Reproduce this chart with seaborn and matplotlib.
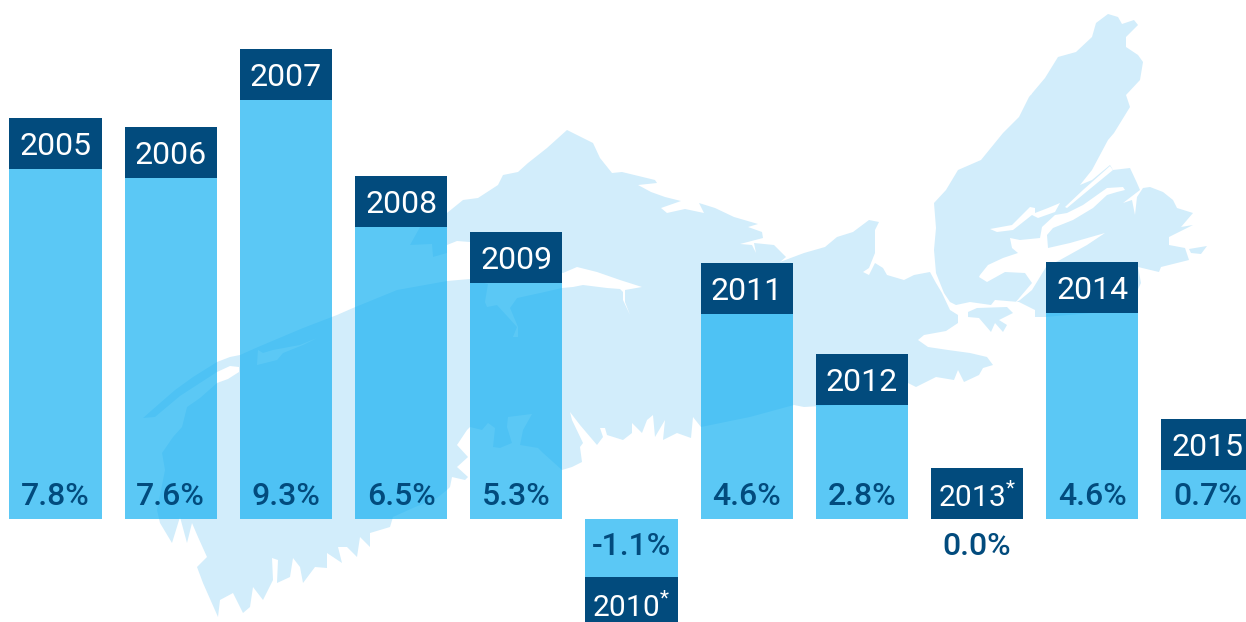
# GDP style bar chart over a pale map of Nova Scotia
import numpy as np
import pandas as pd
import seaborn as sns
import matplotlib.pyplot as plt

# data
years = ['2005', '2006', '2007', '2008', '2009', '2010*', '2011', '2012', '2013*', '2014', '2015']
value_labels = ['7.8%', '7.6%', '9.3%', '6.5%', '5.3%', '-1.1%', '4.6%', '2.8%', '0.0%', '4.6%', '0.7%']
# bar heights as drawn (not quite what the labels say)
bar_heights = [7.78, 7.58, 9.31, 6.49, 5.24, -1.29, 4.56, 2.53, 0.0, 4.58, 1.09]

# map silhouette, traced in picture pixels
map_mainland = [(143, 418), (152, 410), (175, 390), (193, 377), (217, 362), (230, 357), (240, 355), (258, 347),
                (303, 328), (337, 315), (353, 308), (397, 290), (447, 281), (470, 279), (488, 284), (485, 302),
                (487, 307), (497, 305), (508, 317), (517, 327), (513, 337), (518, 337), (518, 327), (510, 308),
                (517, 298), (540, 293), (562, 288), (573, 287), (583, 285), (607, 288), (620, 289), (623, 292),
                (623, 300), (630, 315), (625, 302), (625, 290), (642, 287), (620, 280), (597, 272), (577, 267),
                (563, 273), (470, 242), (457, 241), (447, 245), (447, 253), (433, 257), (432, 244), (410, 245),
                (420, 227), (447, 213), (463, 200), (478, 198), (498, 185), (503, 175), (518, 172), (528, 163),
                (547, 148), (567, 130), (593, 143), (600, 158), (612, 173), (622, 172), (655, 180), (657, 183),
                (638, 185), (651, 192), (665, 197), (681, 201), (661, 208), (667, 213), (685, 209), (704, 213),
                (699, 203), (715, 208), (734, 217), (758, 224), (748, 227), (762, 232), (763, 238), (740, 244),
                (752, 245), (756, 253), (754, 243), (774, 245), (786, 257), (780, 262), (804, 253), (825, 247),
                (837, 237), (853, 232), (869, 220), (879, 222), (875, 230), (875, 253), (869, 268), (863, 272),
                (869, 275), (875, 263), (883, 268), (887, 275), (904, 280), (914, 275), (930, 272), (936, 283),
                (942, 293), (950, 310), (958, 315), (958, 323), (946, 331), (924, 335), (918, 340), (928, 347),
                (948, 350), (970, 353), (987, 357), (993, 365), (983, 368), (979, 375), (964, 382), (958, 370),
                (954, 380), (936, 377), (916, 387), (908, 383), (892, 392), (837, 405), (804, 407), (794, 405),
                (750, 417), (701, 427), (693, 417), (691, 438), (677, 433), (663, 440), (665, 420), (655, 437),
                (653, 415), (647, 420), (642, 433), (632, 423), (632, 433), (623, 440), (607, 435), (605, 428),
                (600, 428), (603, 437), (597, 445), (580, 425), (570, 412), (572, 420), (583, 443), (580, 447),
                (582, 462), (572, 467), (562, 470), (543, 453), (538, 448), (520, 445), (523, 430), (532, 414),
                (508, 417), (507, 427), (512, 443), (500, 448), (493, 447), (495, 428), (488, 423), (482, 430),
                (470, 427), (467, 430), (457, 445), (468, 457), (457, 467), (468, 477), (465, 480), (452, 477),
                (450, 487), (447, 490), (437, 498), (413, 508), (393, 517), (390, 527), (370, 533),
                (370, 547), (360, 537), (357, 557), (347, 547), (338, 547), (342, 563), (327, 553), (327, 568),
                (315, 567), (303, 583), (300, 567), (293, 558), (290, 577), (277, 583), (278, 560), (272, 558),
                (273, 580), (263, 600), (253, 587), (250, 607), (243, 613), (233, 593), (220, 600), (218, 617),
                (203, 583), (197, 567), (207, 557), (198, 537), (192, 523), (187, 543), (180, 517), (172, 543),
                (160, 523), (157, 510), (165, 470), (162, 453), (173, 437), (182, 427), (187, 407), (200, 398),
                (217, 383), (228, 379), (239, 372), (239, 367), (230, 366), (217, 372), (180, 396), (155, 417)]
map_cape_breton = [(1108, 14), (1118, 17), (1122, 24), (1134, 20), (1138, 25), (1126, 37), (1126, 47), (1138, 55),
                   (1143, 62), (1140, 80), (1126, 95), (1130, 107), (1114, 133), (1108, 140), (1092, 170), (1080, 185),
                   (1092, 180), (1110, 165), (1113, 170), (1130, 168), (1137, 183), (1140, 190), (1123, 203), (1132, 200),
                   (1135, 215), (1137, 197), (1143, 188), (1150, 187), (1163, 192), (1173, 200), (1177, 208), (1193, 213),
                   (1181, 227), (1193, 225), (1169, 237), (1169, 245), (1185, 248), (1189, 260), (1161, 267), (1159, 272),
                   (1138, 267), (1141, 283), (1128, 310), (1045, 317), (1035, 317), (1035, 310), (1019, 302), (995, 300),
                   (991, 305), (970, 302), (956, 305), (950, 302), (944, 293), (936, 273), (934, 250), (936, 228),
                   (934, 203), (946, 190), (958, 170), (981, 160), (1003, 133), (1019, 117), (1029, 97), (1045, 78),
                   (1058, 57), (1076, 52), (1092, 37), (1096, 23)]
map_isle_madame = [(968, 312), (977, 308), (1007, 307), (1013, 313), (999, 320), (1007, 325), (1003, 332),
                   (995, 323), (991, 332), (979, 318), (968, 317)]
map_scatarie = [(1189, 249), (1207, 246), (1201, 254), (1191, 253)]
map_water = [
    # Bras d'Or lake and its arms
    [(980, 275), (988, 265), (1003, 258), (1018, 253), (1012, 248), (1010, 238), (1020, 240), (1040, 238),
     (1042, 227), (1055, 215), (1067, 213), (1083, 205), (1107, 188), (1123, 187), (1125, 190), (1117, 192),
     (1107, 195), (1093, 208), (1073, 220), (1053, 228), (1047, 235), (1048, 248), (1070, 243), (1105, 233),
     (1087, 245), (1060, 260), (1046, 267), (1032, 290), (1020, 300), (1015, 303), (1032, 283), (1025, 273),
     (1005, 272), (987, 282), (979, 277)],
    [(1110, 166), (1083, 190), (1065, 207), (1067, 208), (1085, 193), (1113, 170)],
    [(990, 229), (1012, 225), (1030, 207), (1035, 208), (1035, 213), (1048, 208), (1060, 203), (1055, 212),
     (1038, 218), (1032, 215), (1013, 230), (997, 232)],
    [(1026, 93), (1035, 85), (1031, 95)],
    # Annapolis basin
    [(258, 350), (257, 365), (277, 360), (283, 353), (303, 345), (317, 338), (300, 345), (273, 350), (263, 353)],
]

year_height = 51 / 45  # dark year tags are the same height everywhere
light_blue = '#16B1F2'
dark_blue = '#024B7D'
map_blue = '#D2EDFB'

plt.rcParams['font.family'] = ['Roboto', 'DejaVu Sans']
plt.rcParams['mathtext.default'] = 'regular'

fig = plt.figure(figsize=(12.46, 6.22), dpi=100)

# Background map
ax_map = fig.add_axes([0, 0, 1, 1])
ax_map.set_xlim(0, 1246)
ax_map.set_ylim(622, 0)
ax_map.axis('off')
for shape in [map_mainland, map_cape_breton, map_isle_madame, map_scatarie]:
    ax_map.fill(*zip(*shape), color=map_blue, linewidth=0)
for shape in map_water:
    ax_map.fill(*zip(*shape), color='white', linewidth=0)

# Bars on top of it
ax = fig.add_axes([0, 0, 1, 1])
ax.patch.set_alpha(0)

df = pd.DataFrame({'year': years, 'height': bar_heights})
df['tag'] = year_height
df['tag_bottom'] = [h if h >= 0 else h - year_height for h in bar_heights]

sns.barplot(data=df, x='year', y='height', color=light_blue, saturation=1, alpha=0.7,
            width=0.8, linewidth=0, errorbar=None, ax=ax)
sns.barplot(data=df, x='year', y='tag', bottom=df['tag_bottom'].values, color=dark_blue, saturation=1,
            width=0.8, linewidth=0, errorbar=None, ax=ax)

# Labels
px = 1 / 45
for i, (year, label, h) in enumerate(zip(years, value_labels, bar_heights)):
    # values sit 14 px above the zero line, or 36 px below it
    value_y = 14 * px if h > 0 else -36 * px
    ax.text(i, value_y, label, ha='center', va='baseline', fontsize=23, fontweight='medium', color=dark_blue)

    if year.endswith('*'):
        tag_y = max(h, 0) + 12 * px if h >= 0 else h - year_height + 11 * px
        ax.text(i, tag_y, year[:-1] + '$^{*}$', ha='center', va='baseline', fontsize=21.5, color='white')
    else:
        ax.text(i, h + 14 * px, year, ha='center', va='baseline', fontsize=23, color='white')

ax.set_xlim(-55.5 / 115.2, (1246 - 55.5) / 115.2)
ax.set_ylim(-103 / 45, 519 / 45)
ax.axis('off')

plt.savefig('out.png', dpi=100)
